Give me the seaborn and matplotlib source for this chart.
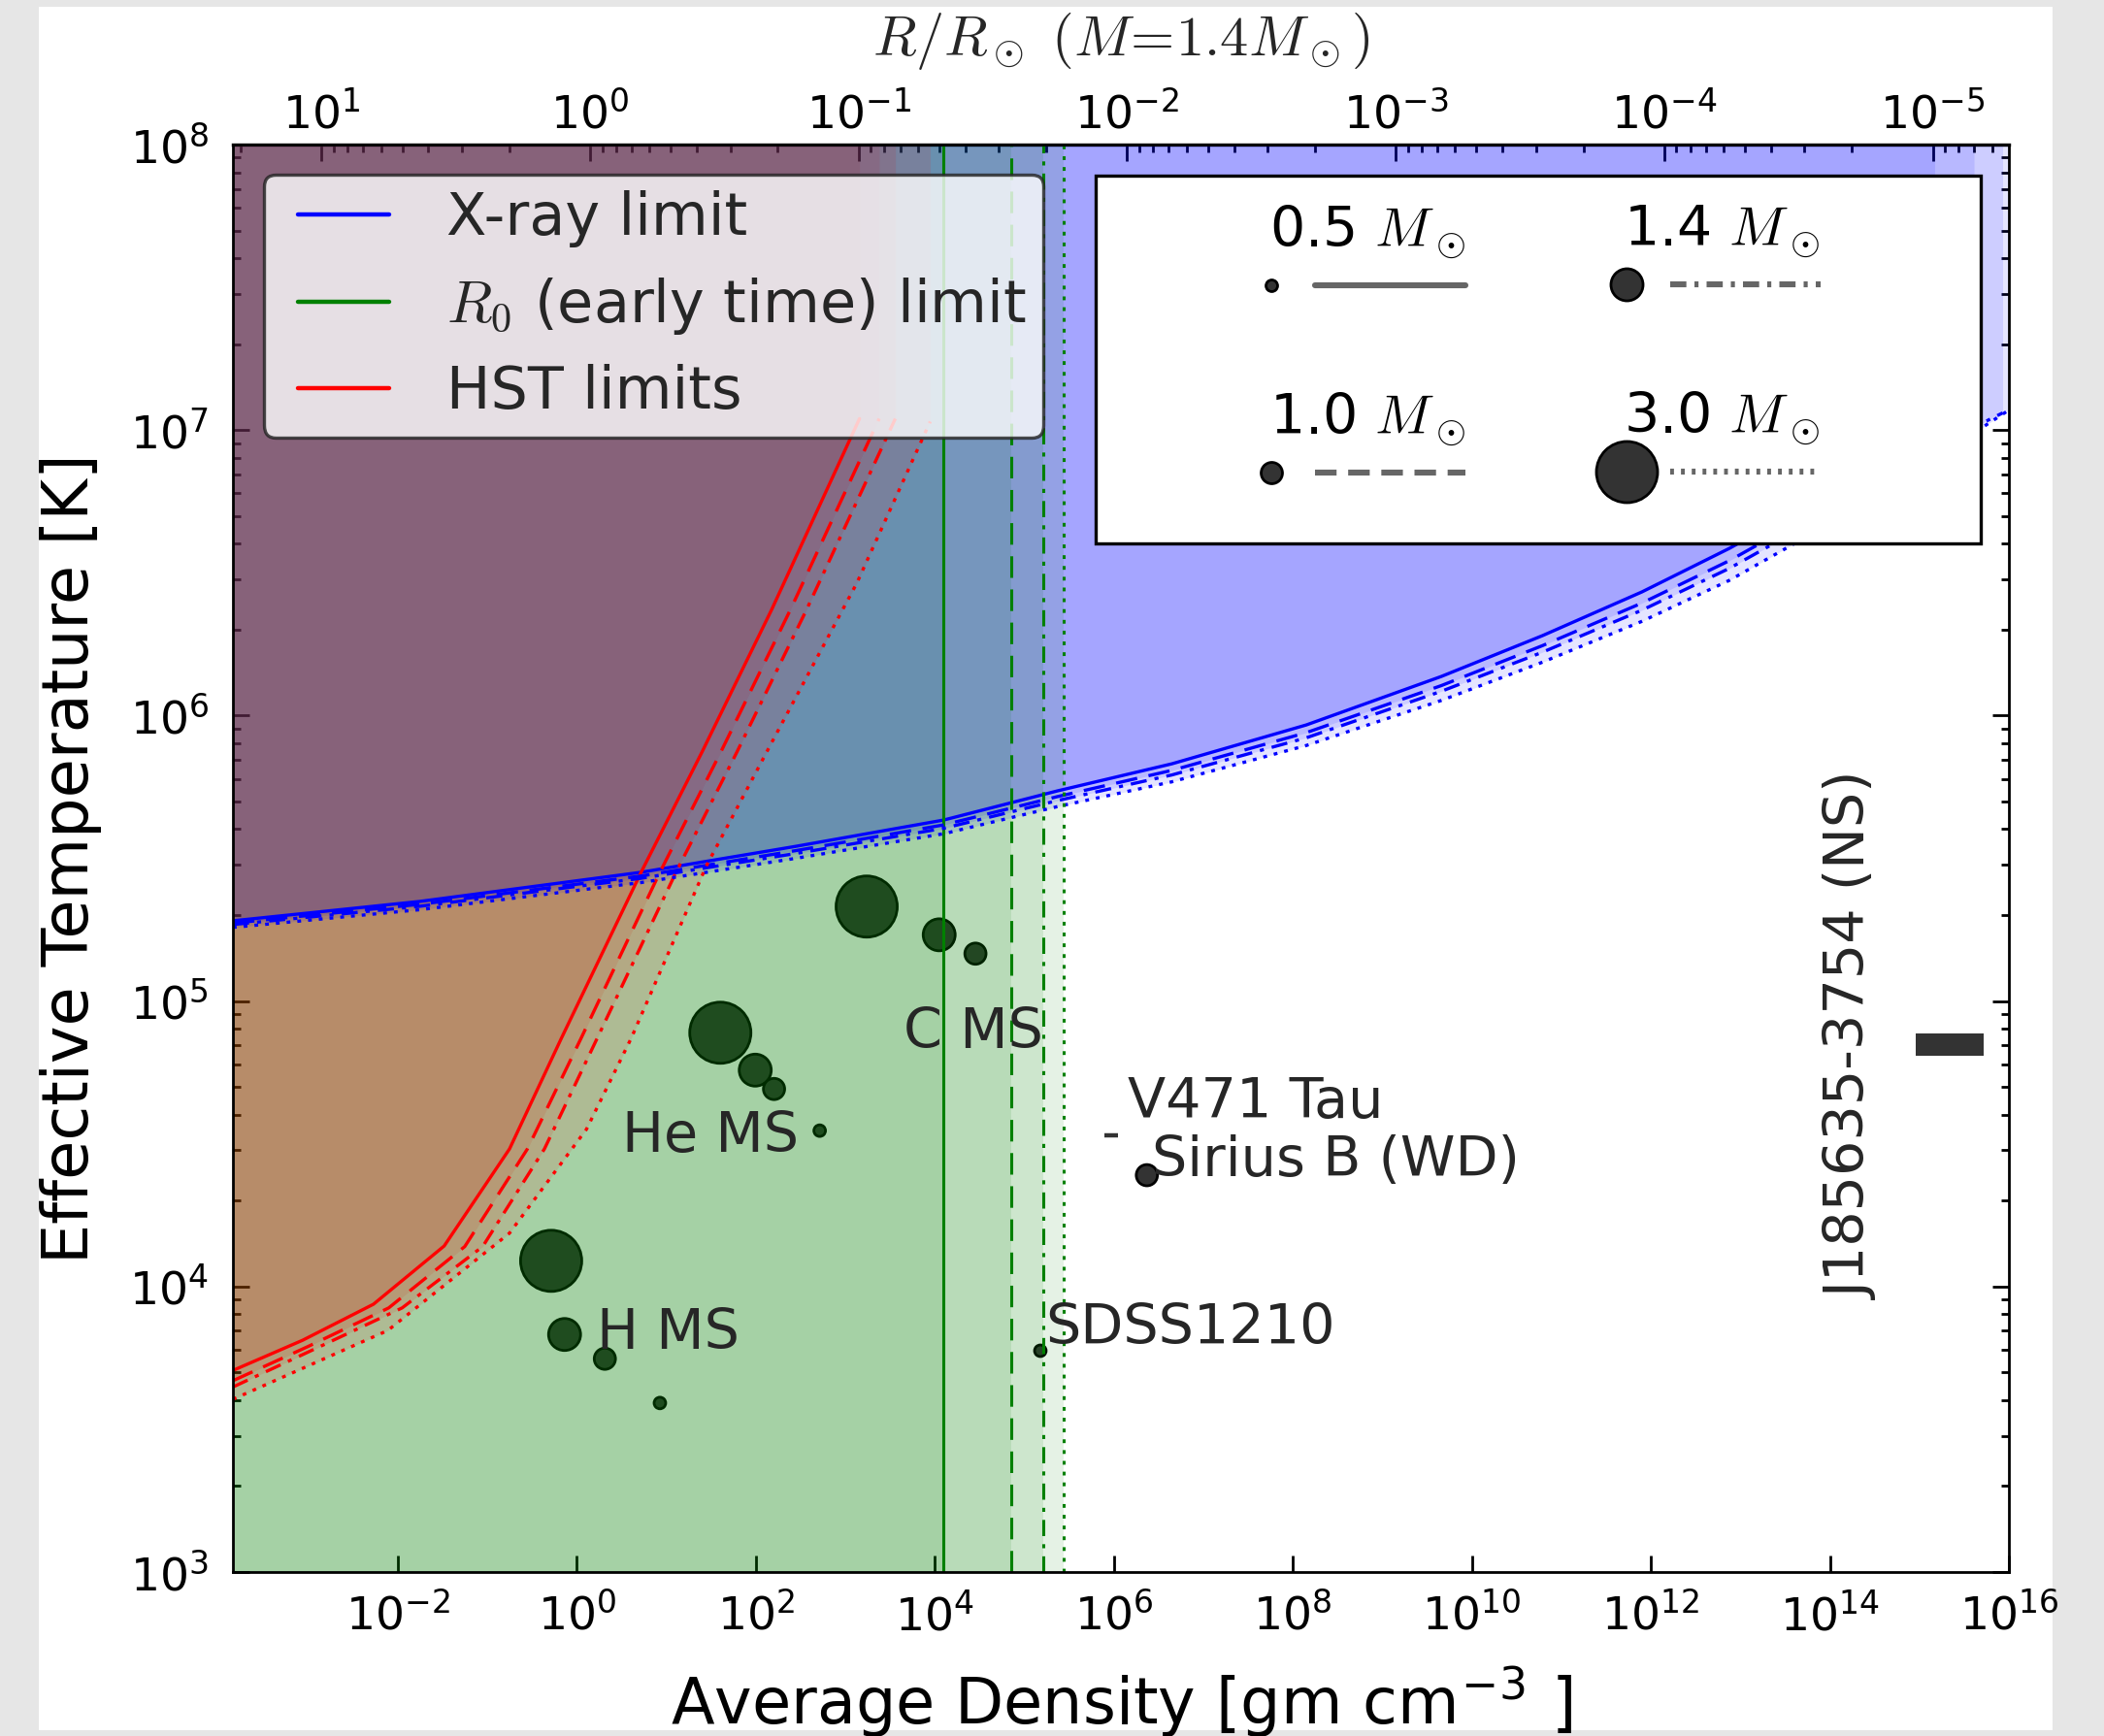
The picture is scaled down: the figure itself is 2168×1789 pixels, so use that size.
import numpy as np
import pandas as pd
import matplotlib
matplotlib.use("Agg")
import matplotlib.pyplot as plt
import matplotlib.ticker as mticker
from matplotlib.lines import Line2D
from matplotlib.patches import Rectangle
from matplotlib.legend_handler import HandlerBase
from matplotlib.offsetbox import AnchoredOffsetbox, VPacker, HPacker, TextArea, DrawingArea
import seaborn as sns

# ---------------- data (log10 values) ----------------
masses = [0.5, 1.0, 1.4, 3.0]
mass_labels = [r"0.5 $M_\odot$", r"1.0 $M_\odot$", r"1.4 $M_\odot$", r"3.0 $M_\odot$"]

# X-ray limit curves: log10 density, log10 temperature
xray_logrho_05 = [-3.84, -1.75, 0.72, 2.45, 4.10, 5.37, 6.65, 8.15, 9.66, 10.79, 11.90, 12.88, 13.90, 14.60, 15.17]
xray_logT_05 = [5.281, 5.349, 5.451, 5.542, 5.634, 5.736, 5.831, 5.967, 6.137, 6.280, 6.433, 6.586, 6.765, 6.895, 7.010]
xray_logrho_10 = [-3.84, -1.75, 0.72, 2.45, 4.10, 5.37, 6.65, 8.15, 9.66, 10.79, 11.90, 12.88, 13.90, 14.60, 15.17, 15.61]
xray_logT_10 = [5.273, 5.339, 5.438, 5.527, 5.617, 5.716, 5.808, 5.940, 6.105, 6.245, 6.394, 6.543, 6.722, 6.850, 6.960, 7.050]
xray_logrho_14 = [-3.84, -1.75, 0.72, 2.45, 4.10, 5.37, 6.65, 8.15, 9.66, 10.79, 11.90, 12.88, 13.90, 14.60, 15.17, 15.61, 15.93]
xray_logT_14 = [5.268, 5.332, 5.430, 5.517, 5.605, 5.702, 5.792, 5.922, 6.085, 6.222, 6.369, 6.516, 6.695, 6.822, 6.930, 7.010, 7.060]
xray_logrho_30 = [-3.84, -1.75, 0.72, 2.45, 4.10, 5.37, 6.65, 8.15, 9.66, 10.79, 11.90, 12.88, 13.90, 14.60, 15.17, 15.61, 16.00]
xray_logT_30 = [5.258, 5.320, 5.415, 5.500, 5.586, 5.681, 5.768, 5.895, 6.053, 6.187, 6.330, 6.474, 6.655, 6.780, 6.890, 6.990, 7.070]

# HST limit curves
hst_logrho_05 = [-3.84, -3.06, -2.27, -1.48, -0.75, -0.17, 0.72, 1.40, 2.18, 3.16]
hst_logT_05 = [3.706, 3.812, 3.938, 4.142, 4.482, 4.870, 5.451, 5.872, 6.372, 7.040]
hst_logrho_10 = [-3.84, -3.00, -2.10, -1.25, -0.55, 0.05, 0.93, 1.61, 2.39, 3.38]
hst_logT_10 = [3.670, 3.790, 3.925, 4.140, 4.482, 4.870, 5.451, 5.872, 6.372, 7.040]
hst_logrho_14 = [-3.84, -2.90, -1.95, -1.05, -0.36, 0.23, 1.11, 1.79, 2.57, 3.56]
hst_logT_14 = [3.648, 3.785, 3.925, 4.140, 4.482, 4.870, 5.451, 5.872, 6.372, 7.040]
hst_logrho_30 = [-3.84, -2.11, -0.75, 0.11, 0.61, 1.45, 2.18, 3.13, 3.95]
hst_logT_30 = [3.605, 3.846, 4.187, 4.551, 4.870, 5.474, 5.906, 6.464, 7.030]

# R0 (early time) density limits
r0_logrho = [4.10, 4.85, 5.21, 5.44]

# main-sequence models
ms_group = ["H", "H", "H", "H", "He", "He", "He", "He", "C", "C", "C"]
ms_mass = [3.0, 1.4, 1.0, 0.5, 3.0, 1.4, 1.0, 0.5, 3.0, 1.4, 1.0]
ms_logrho = [-0.285, -0.135, 0.315, 0.93, 1.605, 1.995, 2.205, 2.715, 3.24, 4.05, 4.455]
ms_logT = [4.090, 3.832, 3.747, 3.592, 4.889, 4.758, 4.692, 4.546, 5.331, 5.232, 5.166]

# observed objects
obj_names = ["Sirius B", "SDSS1210"]
obj_mass = [1.0, 0.5]
obj_logrho = [6.37, 5.18]
obj_logT = [4.39, 3.775]
v471_logrho = [5.97]
v471_logT = [4.53]
ns_logrho = [14.96, 15.72]
ns_logT = [4.808, 4.887]

# labels
label_text = ["H MS", "He MS", "C MS", "V471 Tau", "Sirius B (WD)", "SDSS1210"]
label_logrho = [0.225, 0.509, 3.647, 6.154, 6.43, 5.234]
label_logT = [3.783, 4.472, 4.834, 4.590, 4.388, 3.799]
ns_label = "J185635-3754 (NS)"
ns_label_pos = (14.245, 4.88)

# ---------------- style ----------------
sns.set_theme(style="white")
plt.rcParams["font.family"] = ["DejaVu Sans"]
plt.rcParams["mathtext.fontset"] = "cm"
plt.rcParams["lines.scale_dashes"] = False

styles = ["-", (0, (8, 4.3)), (0, (6, 3, 1.5, 3)), (0, (1.4, 2.6))]
size_map = {0.5: 18.5, 1.0: 62.0, 1.4: 141.0, 3.0: 515.0}
ms_size_pt = {0.5: 4.3, 1.0: 7.9, 1.4: 11.9, 3.0: 22.7}

xray = [(xray_logrho_05, xray_logT_05), (xray_logrho_10, xray_logT_10),
        (xray_logrho_14, xray_logT_14), (xray_logrho_30, xray_logT_30)]
hst = [(hst_logrho_05, hst_logT_05), (hst_logrho_10, hst_logT_10),
       (hst_logrho_14, hst_logT_14), (hst_logrho_30, hst_logT_30)]

XMIN, XMAX = 10 ** -3.84, 1e16
YMIN, YMAX = 1e3, 1e8

W, H = 2168, 1789
DPI = 200
fig = plt.figure(figsize=(W / DPI, H / DPI), dpi=DPI)
fig.patch.set_facecolor("#e6e6e6")
fig.add_artist(Rectangle((40 / W, 1 - 1783 / H), (2115 - 40) / W, (1783 - 7) / H,
                         transform=fig.transFigure, facecolor="white", edgecolor="none", zorder=-5))

ax = fig.add_axes([240 / W, 1 - 1620 / H, (2070 - 240) / W, (1620 - 149) / H])
ax.set_facecolor("white")
ax.set_xscale("log")
ax.set_yscale("log")
ax.set_xlim(XMIN, XMAX)
ax.set_ylim(YMIN, YMAX)

# markers (drawn first: fills lie over them)
df_ms = pd.DataFrame({"rho": 10 ** np.array(ms_logrho), "T": 10 ** np.array(ms_logT), "mass": ms_mass})
sns.scatterplot(data=df_ms, x="rho", y="T", size="mass", sizes=size_map, color="#333333",
                edgecolor="black", linewidth=1.0, legend=False, ax=ax, zorder=1)
df_obj = pd.DataFrame({"rho": 10 ** np.array(obj_logrho), "T": 10 ** np.array(obj_logT), "mass": obj_mass})
sns.scatterplot(data=df_obj, x="rho", y="T", size="mass", sizes=size_map, color="#333333",
                edgecolor="black", linewidth=1.0, legend=False, ax=ax, zorder=1)
ax.plot(10 ** np.array(v471_logrho), 10 ** np.array(v471_logT), marker="_", ms=5, mew=1.6,
        color="#333333", ls="none", zorder=1)

# fills: per mass, X-ray (blue), R0 (green), HST (red)
for i in range(4):
    xr, xt = xray[i]
    ax.fill_between(10 ** np.array(xr), 10 ** np.array(xt), YMAX, color="blue", alpha=0.1, lw=0, zorder=1.5)
    ax.axvspan(XMIN, 10 ** r0_logrho[i], color="green", alpha=0.1, lw=0, zorder=1.5)
    hr, ht = hst[i]
    ax.fill_between(10 ** np.array(hr), 10 ** np.array(ht), YMAX, color="red", alpha=0.1, lw=0, zorder=1.5)

# lines
for i in range(4):
    xr, xt = xray[i]
    ax.plot(10 ** np.array(xr), 10 ** np.array(xt), color="blue", lw=1.2, ls=styles[i], zorder=2)
    hr, ht = hst[i]
    ax.plot(10 ** np.array(hr), 10 ** np.array(ht), color="red", lw=1.2, ls=styles[i], zorder=2)
    ax.axvline(10 ** r0_logrho[i], color="green", lw=1.1, ls=styles[i], zorder=2)

# neutron star box
ax.fill_between(10 ** np.array(ns_logrho), 10 ** ns_logT[0], 10 ** ns_logT[1], color="#333333", lw=0, zorder=2)

# text labels
for t, lx, ly in zip(label_text, label_logrho, label_logT):
    ax.text(10 ** lx, 10 ** ly, t, fontsize=20.6, ha="left", va="baseline", zorder=3)
ax.text(10 ** ns_label_pos[0], 10 ** ns_label_pos[1], ns_label, fontsize=20.6, rotation=90,
        ha="center", va="center", zorder=3)

# axes styling
for s in ax.spines.values():
    s.set_color("black")
    s.set_linewidth(1.0)
    s.set_visible(True)
ax.xaxis.set_major_locator(mticker.FixedLocator([10.0 ** k for k in range(-2, 17, 2)]))
ax.xaxis.set_major_formatter(mticker.LogFormatterSciNotation())
ax.xaxis.set_minor_locator(mticker.NullLocator())
ax.yaxis.set_major_locator(mticker.FixedLocator([10.0 ** k for k in range(3, 9)]))
ax.yaxis.set_major_formatter(mticker.LogFormatterSciNotation())
ax.yaxis.set_minor_locator(mticker.LogLocator(base=10, subs=np.arange(2, 10), numticks=100))
ax.tick_params(which="both", direction="in", top=False, right=True, left=True, bottom=True,
               colors="black", width=1.0, labelsize=17)
ax.tick_params(which="major", length=6)
ax.tick_params(which="minor", length=3)
ax.tick_params(axis="x", pad=8)
ax.tick_params(axis="y", pad=9)
ax.set_xlabel(r"Average Density [gm cm$^{\mathdefault{-3}}$ ]", fontsize=23.5, labelpad=9, color="black")
ax.set_ylabel("Effective Temperature [K]", fontsize=23.5, labelpad=10, color="black")

# top axis: radius for fixed mass
rho_unit = 1.41


def rho2R(rho):
    rho = np.clip(np.asarray(rho, dtype=float), 1e-300, None)
    return (rho_unit / rho) ** (1.0 / 3.0)


def R2rho(R):
    R = np.clip(np.asarray(R, dtype=float), 1e-300, None)
    return rho_unit / R ** 3


secax = ax.secondary_xaxis("top", functions=(rho2R, R2rho))
secax.xaxis.set_major_locator(mticker.FixedLocator([10.0 ** k for k in range(1, -6, -1)]))
secax.xaxis.set_major_formatter(mticker.LogFormatterSciNotation())
secax.xaxis.set_minor_locator(mticker.LogLocator(base=10, subs=np.arange(2, 10), numticks=100))
secax.tick_params(which="both", direction="in", colors="black", width=1.0, labelsize=17, pad=2.5)
secax.tick_params(which="major", length=6)
secax.tick_params(which="minor", length=3)
secax.set_xlabel(r"$R/R_\odot\ (M\!=\!1.4M_\odot)$", fontsize=21, labelpad=13.5)


# legend 1: limits
class InsetLine(HandlerBase):
    def __init__(self, inset, **kw):
        super().__init__(**kw)
        self.inset = inset

    def create_artists(self, legend, orig_handle, xdescent, ydescent, width, height, fontsize, trans):
        y = height / 2.0 - ydescent
        ln = Line2D([-xdescent + self.inset * fontsize, -xdescent + width], [y, y],
                    color=orig_handle.get_color(), lw=orig_handle.get_linewidth())
        ln.set_transform(trans)
        return [ln]


fs1 = 21.8
h1 = [Line2D([], [], color="blue", lw=1.6), Line2D([], [], color="green", lw=1.6),
      Line2D([], [], color="red", lw=1.6)]
l1 = ["X-ray limit", r"$R_0$ (early time) limit", "HST limits"]
hm = {h: InsetLine(0.30) for h in h1}
leg1 = ax.legend(h1, l1, loc="upper left", bbox_to_anchor=(0.0175, 0.979), borderaxespad=0,
                 fontsize=fs1, handlelength=1.86, handletextpad=0.98, labelspacing=0.47,
                 borderpad=0.27, fancybox=True, framealpha=0.8, edgecolor="#222222", handler_map=hm)
leg1.get_frame().set_linewidth(1.2)
leg1.get_frame().set_facecolor("white")
leg1.set_zorder(5)

# legend 2: masses
fs = 20.5


def mass_entry(label, ms, ls):
    txt = TextArea(label, textprops=dict(size=fs, color="black"))
    row = HPacker(children=[DrawingArea(11, 1), txt], sep=0, pad=0, align="baseline")
    da = DrawingArea(90, 24)
    da.add_artist(Line2D([28, 84], [12, 12], color="#666666", lw=2.2, linestyle=ls))
    da.add_artist(Line2D([12], [12], marker="o", ms=ms, mfc="#333333", mec="black", mew=1.0, ls="none"))
    return VPacker(children=[row, da], sep=-3, pad=0, align="left")


col1 = VPacker(children=[mass_entry(mass_labels[0], ms_size_pt[0.5], styles[0]),
                         mass_entry(mass_labels[1], ms_size_pt[1.0], styles[1])], sep=27, pad=0, align="left")
col2 = VPacker(children=[mass_entry(mass_labels[2], ms_size_pt[1.4], styles[2]),
                         mass_entry(mass_labels[3], ms_size_pt[3.0], styles[3])], sep=27, pad=0, align="left")
cols = HPacker(children=[col1, col2], sep=41.7, pad=0, align="top")
row_body = HPacker(children=[DrawingArea(43, 1), cols, DrawingArea(43, 1)], sep=0, pad=0, align="center")
body = VPacker(children=[row_body, DrawingArea(1, 4)], sep=0, pad=0, align="left")
box = AnchoredOffsetbox(loc="upper right", child=body, pad=0.5, borderpad=0, frameon=True,
                        bbox_to_anchor=(0.984, 0.978), bbox_transform=ax.transAxes, prop=dict(size=fs))
box.patch.set_edgecolor("black")
box.patch.set_linewidth(1.2)
box.patch.set_facecolor("white")
box.set_zorder(5)
ax.add_artist(box)

fig.savefig("out.png", dpi=DPI, facecolor=fig.get_facecolor())
